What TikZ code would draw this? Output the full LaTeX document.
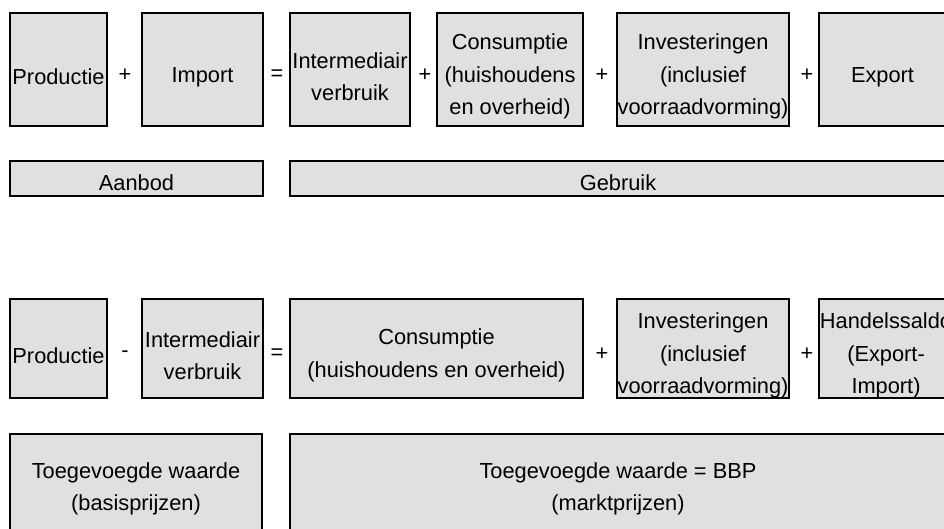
\documentclass[tikz,border=0pt]{standalone}
\usepackage{fontspec}
\setmainfont{Liberation Sans}
\definecolor{boxgray}{HTML}{E0E0E0}
\newdimen\px
\px=0.025cm
\newcommand{\boxlift}[1][21pt]{\rule{0pt}{#1}}
\begin{document}
\begin{tikzpicture}[x=\px,y=-\px]
      \tikzstyle{block}=[draw,fill=boxgray,line width=1.2pt,inner sep=0pt,align=center,font=\fontsize{15.5}{22.8}\selectfont]
      \tikzstyle{op}=[inner sep=0pt,font=\fontsize{15.5}{22.8}\selectfont]
      \useasboundingbox (0,0) rectangle (944,528);
      \clip (0,0) rectangle (944,528);
      \node[block,minimum width=97\px,minimum height=113\px] (P1) at (58.5,69.5) {\boxlift Productie};
      \node[op] (plusA) at (125,75) {+};
      \node[block,minimum width=121\px,minimum height=113\px] (IM) at (202.5,69.5) {\boxlift Import};
      \node[op] (eqA) at (277,75) {=};
      \node[block,minimum width=120\px,minimum height=113\px] (IV1) at (350,69.5) {\boxlift Intermediair\\verbruik};
      \node[op] (plusB) at (425,75) {+};
      \node[block,minimum width=146\px,minimum height=113\px] (C1) at (510,69.5) {\boxlift Consumptie\\(huishoudens\\en overheid)};
      \node[op] (plusC) at (602,75) {+};
      \node[block,minimum width=172\px,minimum height=113\px] (I1) at (703,69.5) {\boxlift Investeringen\\(inclusief\\voorraadvorming)};
      \node[op] (plusD) at (807,75) {+};
      \node[block,minimum width=127\px,minimum height=113\px] (EX) at (882.5,69.5) {\boxlift Export};
      \node[block,minimum width=253\px,minimum height=35\px] (AB) at (136.5,178.5) {\boxlift[17pt]Aanbod};
      \node[block,minimum width=656\px,minimum height=35\px] (GB) at (618,178.5) {\boxlift[17pt]Gebruik};
      \node[block,minimum width=97\px,minimum height=99\px] (P2) at (58.5,348.5) {\boxlift Productie};
      \node[op] (minE) at (125,354) {-};
      \node[block,minimum width=121\px,minimum height=99\px] (IV2) at (202.5,348.5) {\boxlift Intermediair\\verbruik};
      \node[op] (eqF) at (277,354) {=};
      \node[block,minimum width=293\px,minimum height=99\px] (C2) at (436.5,348.5) {\boxlift Consumptie\\(huishoudens en overheid)};
      \node[op] (plusG) at (602,354) {+};
      \node[block,minimum width=172\px,minimum height=99\px] (I2) at (703,348.5) {\boxlift Investeringen\\(inclusief\\voorraadvorming)};
      \node[op] (plusH) at (807,354) {+};
      \node[block,minimum width=134\px,minimum height=99\px] (HS) at (886,348.5) {\boxlift Handelssaldo\\(Export-\\Import)};
      \node[block,minimum width=252\px,minimum height=104\px] (TW1) at (136,486) {\boxlift[15.5pt]Toegevoegde waarde\\(basisprijzen)};
      \node[block,minimum width=656\px,minimum height=104\px] (TW2) at (618,486) {\boxlift[15.5pt]Toegevoegde waarde = BBP\\(marktprijzen)};
    \end{tikzpicture}
\end{document}
